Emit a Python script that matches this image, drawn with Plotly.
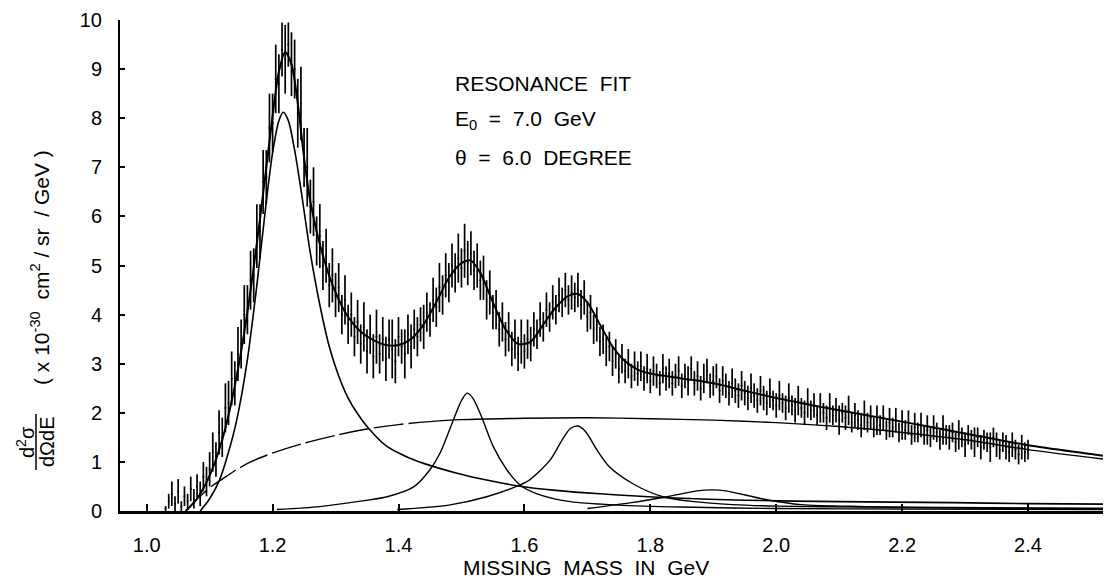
import plotly.graph_objects as go

# ---------------- data ----------------
mass = [1.030, 1.035, 1.040, 1.045, 1.050, 1.055, 1.060, 1.065, 1.070, 1.075,
        1.080, 1.085, 1.090, 1.095, 1.100, 1.105, 1.110, 1.115, 1.120, 1.125,
        1.130, 1.135, 1.140, 1.145, 1.150, 1.155, 1.160, 1.165, 1.170, 1.175,
        1.180, 1.185, 1.190, 1.195, 1.200, 1.205, 1.210, 1.215, 1.220, 1.225,
        1.230, 1.235, 1.240, 1.245, 1.250, 1.255, 1.260, 1.265, 1.270, 1.275,
        1.280, 1.285, 1.290, 1.295, 1.300, 1.305, 1.310, 1.315, 1.320, 1.325,
        1.330, 1.335, 1.340, 1.345, 1.350, 1.355, 1.360, 1.365, 1.370, 1.375,
        1.380, 1.385, 1.390, 1.395, 1.400, 1.405, 1.410, 1.415, 1.420, 1.425,
        1.430, 1.435, 1.440, 1.445, 1.450, 1.455, 1.460, 1.465, 1.470, 1.475,
        1.480, 1.485, 1.490, 1.495, 1.500, 1.505, 1.510, 1.515, 1.520, 1.525,
        1.530, 1.535, 1.540, 1.545, 1.550, 1.555, 1.560, 1.565, 1.570, 1.575,
        1.580, 1.585, 1.590, 1.595, 1.600, 1.605, 1.610, 1.615, 1.620, 1.625,
        1.630, 1.635, 1.640, 1.645, 1.650, 1.655, 1.660, 1.665, 1.670, 1.675,
        1.680, 1.685, 1.690, 1.695, 1.700, 1.705, 1.710, 1.715, 1.720, 1.725,
        1.730, 1.735, 1.740, 1.745, 1.750, 1.755, 1.760, 1.765, 1.770, 1.775,
        1.780, 1.785, 1.790, 1.795, 1.800, 1.805, 1.810, 1.815, 1.820, 1.825,
        1.830, 1.835, 1.840, 1.845, 1.850, 1.855, 1.860, 1.865, 1.870, 1.875,
        1.880, 1.885, 1.890, 1.895, 1.900, 1.905, 1.910, 1.915, 1.920, 1.925,
        1.930, 1.935, 1.940, 1.945, 1.950, 1.955, 1.960, 1.965, 1.970, 1.975,
        1.980, 1.985, 1.990, 1.995, 2.000, 2.005, 2.010, 2.015, 2.020, 2.025,
        2.030, 2.035, 2.040, 2.045, 2.050, 2.055, 2.060, 2.065, 2.070, 2.075,
        2.080, 2.085, 2.090, 2.095, 2.100, 2.105, 2.110, 2.115, 2.120, 2.125,
        2.130, 2.135, 2.140, 2.145, 2.150, 2.155, 2.160, 2.165, 2.170, 2.175,
        2.180, 2.185, 2.190, 2.195, 2.200, 2.205, 2.210, 2.215, 2.220, 2.225,
        2.230, 2.235, 2.240, 2.245, 2.250, 2.255, 2.260, 2.265, 2.270, 2.275,
        2.280, 2.285, 2.290, 2.295, 2.300, 2.305, 2.310, 2.315, 2.320, 2.325,
        2.330, 2.335, 2.340, 2.345, 2.350, 2.355, 2.360, 2.365, 2.370, 2.375,
        2.380, 2.385, 2.390, 2.395, 2.400]

cross_section = [
    0.05, 0.20, 0.35, 0.15, 0.40, 0.10, 0.30, 0.20, 0.45, 0.25,
    0.50, 0.35, 0.70, 0.60, 0.85, 1.20, 1.05, 1.60, 1.50, 2.10,
    2.20, 2.70, 2.60, 3.20, 3.40, 4.00, 4.10, 4.70, 4.80, 5.60,
    5.70, 6.70, 6.80, 7.80, 7.90, 8.80, 8.70, 9.40, 9.20, 9.50,
    9.10, 9.00, 8.10, 8.30, 7.20, 7.00, 6.20, 6.30, 5.50, 5.60,
    5.00, 5.20, 4.60, 4.80, 4.40, 4.55, 4.00, 4.30, 3.80, 4.00,
    3.55, 3.85, 3.40, 3.75, 3.25, 3.60, 3.15, 3.55, 3.20, 3.50,
    3.10, 3.50, 3.30, 3.05, 3.55, 3.35, 3.20, 3.60, 3.35, 3.70,
    3.55, 3.80, 3.75, 4.05, 3.90, 4.30, 4.15, 4.55, 4.40, 4.80,
    4.65, 5.00, 4.85, 5.15, 4.95, 5.30, 5.05, 5.25, 4.90, 5.00,
    4.70, 4.75, 4.30, 4.45, 4.05, 4.10, 3.70, 3.85, 3.50, 3.65,
    3.30, 3.50, 3.20, 3.45, 3.25, 3.50, 3.40, 3.70, 3.60, 3.90,
    3.75, 4.10, 3.95, 4.25, 4.10, 4.40, 4.25, 4.50, 4.30, 4.45,
    4.35, 4.50, 4.20, 4.35, 3.95, 4.05, 3.70, 3.80, 3.45, 3.50,
    3.25, 3.35, 3.05, 3.20, 2.90, 3.10, 2.85, 3.00, 2.75, 2.95,
    2.80, 2.95, 2.70, 2.90, 2.65, 2.85, 2.75, 2.60, 2.90, 2.70,
    2.80, 2.60, 2.75, 2.85, 2.55, 2.75, 2.65, 2.90, 2.60, 2.75,
    2.50, 2.70, 2.85, 2.55, 2.65, 2.75, 2.45, 2.65, 2.55, 2.40,
    2.60, 2.45, 2.35, 2.55, 2.40, 2.30, 2.50, 2.35, 2.25, 2.45,
    2.30, 2.20, 2.40, 2.25, 2.15, 2.35, 2.20, 2.10, 2.30, 2.15,
    2.05, 2.25, 2.10, 2.00, 2.20, 2.05, 2.15, 1.95, 2.10, 2.00,
    1.90, 2.10, 1.95, 2.05, 1.85, 2.00, 1.90, 2.05, 1.80, 1.95,
    1.85, 1.75, 1.95, 1.80, 1.90, 1.70, 1.85, 1.75, 1.90, 1.65,
    1.80, 1.70, 1.85, 1.60, 1.75, 1.65, 1.80, 1.55, 1.70, 1.60,
    1.75, 1.55, 1.65, 1.50, 1.70, 1.60, 1.45, 1.65, 1.55, 1.50,
    1.60, 1.40, 1.55, 1.50, 1.35, 1.55, 1.45, 1.40, 1.50, 1.30,
    1.45, 1.40, 1.30, 1.50, 1.35, 1.25, 1.40, 1.30, 1.20, 1.35,
    1.25, 1.15, 1.30, 1.20, 1.25]

cross_section_err = [
    0.05, 0.15, 0.25, 0.15, 0.25, 0.10, 0.20, 0.15, 0.25, 0.20,
    0.25, 0.25, 0.30, 0.30, 0.35, 0.40, 0.35, 0.45, 0.40, 0.50,
    0.45, 0.55, 0.45, 0.55, 0.50, 0.60, 0.50, 0.60, 0.55, 0.65,
    0.55, 0.65, 0.55, 0.70, 0.60, 0.70, 0.60, 0.55, 0.70, 0.45,
    0.65, 0.60, 0.70, 0.75, 0.60, 0.80, 0.55, 0.70, 0.50, 0.65,
    0.50, 0.55, 0.45, 0.55, 0.45, 0.50, 0.40, 0.50, 0.40, 0.45,
    0.40, 0.45, 0.40, 0.50, 0.45, 0.40, 0.45, 0.55, 0.40, 0.45,
    0.45, 0.40, 0.60, 0.45, 0.40, 0.35, 0.50, 0.40, 0.45, 0.40,
    0.40, 0.35, 0.45, 0.40, 0.35, 0.45, 0.40, 0.50, 0.40, 0.45,
    0.40, 0.45, 0.40, 0.50, 0.40, 0.55, 0.45, 0.45, 0.40, 0.45,
    0.40, 0.45, 0.40, 0.45, 0.35, 0.40, 0.35, 0.40, 0.35, 0.40,
    0.35, 0.40, 0.35, 0.45, 0.35, 0.40, 0.35, 0.35, 0.30, 0.35,
    0.30, 0.35, 0.30, 0.35, 0.30, 0.35, 0.30, 0.35, 0.30, 0.35,
    0.30, 0.35, 0.30, 0.35, 0.30, 0.35, 0.30, 0.35, 0.30, 0.30,
    0.30, 0.30, 0.30, 0.30, 0.30, 0.30, 0.25, 0.30, 0.25, 0.30,
    0.25, 0.30, 0.25, 0.30, 0.25, 0.30, 0.25, 0.25, 0.30, 0.25,
    0.30, 0.25, 0.25, 0.30, 0.25, 0.25, 0.30, 0.25, 0.25, 0.30,
    0.25, 0.30, 0.25, 0.25, 0.30, 0.25, 0.25, 0.30, 0.25, 0.25,
    0.30, 0.25, 0.25, 0.30, 0.25, 0.25, 0.30, 0.25, 0.25, 0.30,
    0.25, 0.25, 0.30, 0.20, 0.25, 0.30, 0.20, 0.25, 0.30, 0.20,
    0.25, 0.30, 0.20, 0.25, 0.30, 0.20, 0.25, 0.20, 0.30, 0.20,
    0.25, 0.30, 0.20, 0.25, 0.30, 0.20, 0.25, 0.30, 0.20, 0.25,
    0.20, 0.25, 0.30, 0.20, 0.25, 0.20, 0.30, 0.20, 0.25, 0.20,
    0.30, 0.20, 0.25, 0.20, 0.30, 0.20, 0.25, 0.20, 0.30, 0.20,
    0.25, 0.20, 0.30, 0.20, 0.25, 0.20, 0.20, 0.30, 0.20, 0.25,
    0.20, 0.20, 0.30, 0.20, 0.25, 0.20, 0.20, 0.30, 0.20, 0.25,
    0.20, 0.20, 0.30, 0.20, 0.25, 0.20, 0.20, 0.25, 0.20, 0.25,
    0.20, 0.20, 0.25, 0.20, 0.20]

# total resonance fit
fit_mass = [1.062, 1.080, 1.100, 1.120, 1.140, 1.160, 1.180, 1.200, 1.210, 1.220,
            1.230, 1.240, 1.250, 1.260, 1.280, 1.300, 1.320, 1.340, 1.360, 1.380,
            1.400, 1.420, 1.440, 1.460, 1.480, 1.500, 1.515, 1.530, 1.550, 1.570,
            1.590, 1.610, 1.630, 1.650, 1.670, 1.685, 1.700, 1.720, 1.740, 1.760,
            1.780, 1.800, 1.850, 1.900, 1.950, 2.000, 2.100, 2.200, 2.300, 2.400,
            2.500, 2.532]
fit_total = [0.00, 0.25, 0.72, 1.45, 2.55, 4.05, 5.95, 8.05, 8.95, 9.35,
             9.10, 8.30, 7.20, 6.30, 5.20, 4.45, 3.95, 3.65, 3.48, 3.38,
             3.38, 3.50, 3.80, 4.25, 4.75, 5.05, 5.10, 4.85, 4.25, 3.70,
             3.40, 3.45, 3.80, 4.15, 4.38, 4.42, 4.25, 3.80, 3.35, 3.05,
             2.88, 2.80, 2.70, 2.60, 2.45, 2.30, 2.05, 1.82, 1.58, 1.34,
             1.16, 1.10]

# Delta(1232) component
delta_mass = [1.085, 1.100, 1.116, 1.130, 1.143, 1.159, 1.175, 1.190, 1.200, 1.210,
              1.217, 1.225, 1.235, 1.245, 1.260, 1.275, 1.290, 1.305, 1.320, 1.335,
              1.350, 1.380, 1.410, 1.440, 1.490, 1.540, 1.590, 1.650, 1.720, 1.830,
              1.950, 2.100, 2.280, 2.400, 2.532]
delta_fit = [0.00, 0.25, 0.64, 1.20, 1.85, 3.00, 4.60, 6.30, 7.30, 7.95,
             8.12, 7.95, 7.35, 6.55, 5.25, 4.20, 3.35, 2.75, 2.30, 1.98,
             1.72, 1.33, 1.12, 0.97, 0.78, 0.63, 0.51, 0.42, 0.35, 0.27,
             0.22, 0.19, 0.17, 0.15, 0.14]

# second resonance (1.51 GeV)
res2_mass = [1.207, 1.275, 1.340, 1.382, 1.424, 1.450, 1.466, 1.487, 1.500, 1.509,
             1.518, 1.530, 1.551, 1.572, 1.593, 1.620, 1.673, 1.750, 1.850, 2.000,
             2.200, 2.532]
res2_fit = [0.03, 0.09, 0.20, 0.29, 0.49, 0.84, 1.18, 1.85, 2.25, 2.40,
            2.30, 1.98, 1.30, 0.84, 0.53, 0.35, 0.19, 0.12, 0.08, 0.05,
            0.04, 0.03]

# third resonance (1.68 GeV)
res3_mass = [1.398, 1.480, 1.540, 1.593, 1.609, 1.641, 1.660, 1.673, 1.685, 1.697,
             1.715, 1.735, 1.773, 1.820, 1.870, 1.930, 2.000, 2.140, 2.280, 2.532]
res3_fit = [0.03, 0.12, 0.29, 0.53, 0.64, 1.04, 1.45, 1.68, 1.73, 1.62,
            1.25, 0.90, 0.55, 0.29, 0.19, 0.13, 0.10, 0.08, 0.07, 0.05]

# fourth resonance (1.9 GeV)
res4_mass = [1.700, 1.770, 1.826, 1.874, 1.900, 1.920, 1.985, 2.040, 2.140, 2.300, 2.532]
res4_fit = [0.05, 0.17, 0.29, 0.41, 0.43, 0.41, 0.23, 0.13, 0.09, 0.06, 0.05]

# non-resonant background
bg_mass = [1.062, 1.075, 1.090, 1.105, 1.120, 1.140, 1.165, 1.200, 1.250, 1.300,
           1.350, 1.400, 1.450, 1.500, 1.600, 1.700, 1.800, 1.900, 2.000, 2.100,
           2.200, 2.300, 2.400, 2.532]
bg_fit = [0.00, 0.18, 0.36, 0.52, 0.65, 0.82, 1.00, 1.18, 1.38, 1.54,
          1.67, 1.76, 1.82, 1.86, 1.89, 1.90, 1.88, 1.85, 1.80, 1.72,
          1.60, 1.45, 1.25, 1.04]

x_ticks = [1.0, 1.2, 1.4, 1.6, 1.8, 2.0, 2.2, 2.4]
x_tick_text = ["1.0", "1.2", "1.4", "1.6", "1.8", "2.0", "2.2", "2.4"]
y_ticks = [0, 1, 2, 3, 4, 5, 6, 7, 8, 9, 10]
y_tick_text = ["0", "1", "2", "3", "4", "5", "6", "7", "8", "9", "10"]

# ---------------- figure ----------------
FONT = "Liberation Sans, Arial, sans-serif"
fig = go.Figure()

# the background curve is printed with long dashes over its rising part
BG_DASH = ",".join(["30px,5px"] * 7 + ["3000px,1px"])

curves = [
    (bg_mass, bg_fit, 1.4, BG_DASH),
    (delta_mass, delta_fit, 1.6, "solid"),
    (res2_mass, res2_fit, 1.4, "solid"),
    (res3_mass, res3_fit, 1.4, "solid"),
    (res4_mass, res4_fit, 1.4, "solid"),
    (fit_mass, fit_total, 2.0, "solid"),
]
for xs, ys, w, d in curves:
    fig.add_trace(go.Scatter(x=xs, y=ys, mode="lines",
                             line=dict(color="black", width=w, shape="spline",
                                       smoothing=0.8, dash=d),
                             hoverinfo="skip", showlegend=False))

fig.add_trace(go.Scatter(
    x=mass, y=cross_section, mode="markers",
    marker=dict(size=2, color="black"),
    error_y=dict(type="data", array=cross_section_err, visible=True,
                 width=0, thickness=1.7, color="black"),
    showlegend=False))

# the page body adds an 8 px offset, so the figure is sized to end at the window edge
PLOT_TOP, PLOT_BOTTOM = 12, 71
fig.update_layout(
    width=1103, height=574,
    margin=dict(l=112, r=0, t=PLOT_TOP, b=PLOT_BOTTOM, autoexpand=False),
    paper_bgcolor="white", plot_bgcolor="white",
    font=dict(family=FONT, size=20, color="black"),
    showlegend=False,
)
fig.update_xaxes(
    range=[0.9576, 2.5318], tickvals=x_ticks, ticktext=x_tick_text,
    ticks="inside", ticklen=7, tickwidth=2, tickcolor="black",
    showline=True, linewidth=3, linecolor="black",
    showgrid=False, zeroline=False, ticklabelstandoff=14,
    ticklabeloverflow="allow",
    tickfont=dict(size=20, family=FONT),
)
fig.update_yaxes(
    range=[0, 10], tickvals=y_ticks, ticktext=y_tick_text,
    ticks="inside", ticklen=5, tickwidth=2, tickcolor="black",
    showline=True, linewidth=2, linecolor="black",
    showgrid=False, zeroline=False, ticklabelstandoff=12,
    ticklabeloverflow="allow",
    tickfont=dict(size=20, family=FONT),
)

PLOT_H = 574 - PLOT_TOP - PLOT_BOTTOM

def px_x(p):
    return (p - 120) / 991.0

def px_y(p):
    return (511 - p) / float(PLOT_H)

ann = [
    dict(text="MISSING  MASS  IN  GeV", x=px_x(586), y=px_y(567), xanchor="center",
         yanchor="middle", textangle=0, size=21),
    dict(text="RESONANCE  FIT", x=px_x(453), y=px_y(83), xanchor="left",
         yanchor="middle", textangle=0, size=21),
    dict(text="E<sub>0</sub>  =  7.0  GeV", x=px_x(453), y=px_y(120), xanchor="left",
         yanchor="middle", textangle=0, size=21),
    dict(text="θ  =  6.0  DEGREE", x=px_x(453), y=px_y(157), xanchor="left",
         yanchor="middle", textangle=0, size=21),
    dict(text="d<sup>2</sup>σ", x=px_x(25), y=px_y(442), xanchor="center",
         yanchor="middle", textangle=-90, size=20),
    dict(text="dΩdE", x=px_x(47), y=px_y(442), xanchor="center",
         yanchor="middle", textangle=-90, size=20),
    dict(text="( x 10<sup>-30</sup>  cm<sup>2</sup> / sr  / GeV )", x=px_x(40), y=px_y(268),
         xanchor="center", yanchor="middle", textangle=-90, size=21),
]
for a in ann:
    fig.add_annotation(text=a["text"], x=a["x"], y=a["y"], xref="paper", yref="paper",
                       xanchor=a["xanchor"], yanchor=a["yanchor"], textangle=a["textangle"],
                       showarrow=False, font=dict(family=FONT, size=a["size"], color="black"))

# fraction bar of the y-axis title
fig.add_shape(type="line", xref="paper", yref="paper",
              x0=px_x(36), x1=px_x(36), y0=px_y(414), y1=px_y(470),
              line=dict(color="black", width=1.5))

fig.write_html("out.html")
